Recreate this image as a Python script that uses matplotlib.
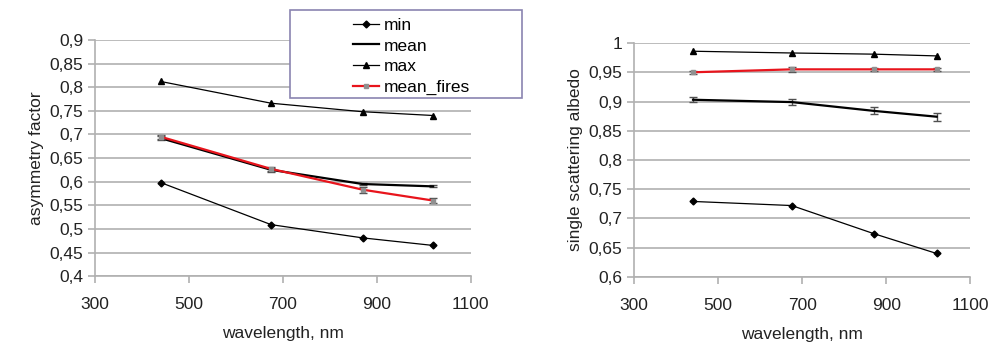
import matplotlib
matplotlib.use('Agg')
import matplotlib.pyplot as plt
from matplotlib.lines import Line2D
from matplotlib.patches import Rectangle
from matplotlib.ticker import FuncFormatter, MultipleLocator

plt.rcParams['font.family'] = ['Liberation Sans', 'DejaVu Sans']

# wavelengths (nm)
wl = [440, 675, 870, 1020]
x_ticks = [300, 500, 700, 900, 1100]

# asymmetry factor
g_min = [0.598, 0.509, 0.481, 0.465]
g_mean = [0.692, 0.625, 0.595, 0.590]
g_mean_err = [0.004, 0.004, 0.003, 0.002]
g_max = [0.812, 0.766, 0.748, 0.740]
g_fires = [0.695, 0.627, 0.583, 0.560]
g_fires_err = [0.004, 0.005, 0.006, 0.005]

# single scattering albedo
w_min = [0.729, 0.722, 0.674, 0.640]
w_mean = [0.903, 0.899, 0.884, 0.874]
w_mean_err = [0.004, 0.005, 0.006, 0.007]
w_max = [0.986, 0.983, 0.981, 0.978]
w_fires = [0.950, 0.955, 0.955, 0.955]
w_fires_err = [0.003, 0.004, 0.003, 0.003]

series_names = ['min', 'mean', 'max', 'mean_fires']

grid_c = '#b0b0b0'
red = '#e8141c'
fs = 12.5

min_style = dict(color='black', lw=0.9, marker='D', ms=3.5)
mean_style = dict(color='black', lw=1.6)
max_style = dict(color='black', lw=0.9, marker='^', ms=5)
fires_style = dict(color=red, lw=1.6, marker='s', ms=3,
                   mfc='#909090', mec='#909090')


def comma(v, pos):
    s = ('%.2f' % v).rstrip('0').rstrip('.')
    return s.replace('.', ',')


def draw(ax, mn, mean, mean_err, mx, fires, fires_err, ylim, ylabel):
    ax.plot(wl, mn, zorder=3, **min_style)
    ax.errorbar(wl, mean, yerr=mean_err, ecolor='#505050', elinewidth=1,
                capsize=3, zorder=3, **mean_style)
    ax.plot(wl, mx, zorder=3, **max_style)
    ax.errorbar(wl, fires, yerr=fires_err, ecolor='#505050', elinewidth=1,
                capsize=3, zorder=4, **fires_style)
    ax.set_xlim(300, 1100)
    ax.set_ylim(*ylim)
    ax.set_xticks(x_ticks)
    ax.yaxis.set_major_locator(MultipleLocator(0.05))
    ax.yaxis.set_major_formatter(FuncFormatter(comma))
    ax.grid(axis='y', color=grid_c, lw=1.2, zorder=0)
    for s in ['top', 'right']:
        ax.spines[s].set_visible(False)
    for s in ['left', 'bottom']:
        ax.spines[s].set_color(grid_c)
        ax.spines[s].set_linewidth(1.2)
    ax.tick_params(axis='both', colors=grid_c, labelcolor='#222222',
                   labelsize=fs, length=5, width=1.2)
    ax.tick_params(axis='x', pad=10)
    ax.set_xlabel('wavelength, nm', fontsize=fs, color='#222222', labelpad=10)
    ax.set_ylabel(ylabel, fontsize=fs, color='#222222')


fig = plt.figure(figsize=(9.91, 3.5), dpi=100)
ax1 = fig.add_axes([0.0959, 0.211, 0.379, 0.675])
ax2 = fig.add_axes([0.640, 0.209, 0.339, 0.668])

draw(ax1, g_min, g_mean, g_mean_err, g_max, g_fires, g_fires_err,
     (0.4, 0.9), 'asymmetry factor')
draw(ax2, w_min, w_mean, w_mean_err, w_max, w_fires, w_fires_err,
     (0.6, 1.0), 'single scattering albedo')

# Legend box drawn as a figure patch, entries placed inside it
box = Rectangle((0.2926, 0.72), 0.234, 0.2514, transform=fig.transFigure,
                facecolor='white', edgecolor='#8a84b0', lw=1.2, zorder=5)
fig.patches.append(box)

handles = [Line2D([], [], **min_style), Line2D([], [], **mean_style),
           Line2D([], [], **max_style), Line2D([], [], **fires_style)]
leg = fig.legend(handles, series_names, loc='upper left',
                 bbox_to_anchor=(0.356, 0.95), fontsize=fs, frameon=False,
                 handlelength=1.5, handletextpad=0.3, labelspacing=0.33,
                 borderpad=0, borderaxespad=0)
leg.set_zorder(6)

fig.savefig('out.png', dpi=100)
